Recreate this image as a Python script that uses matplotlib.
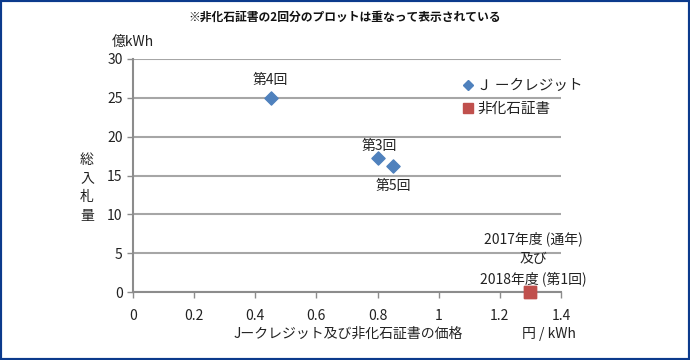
import matplotlib
matplotlib.use('Agg')
import matplotlib.pyplot as plt
from matplotlib.patches import Rectangle
from matplotlib.lines import Line2D

plt.rcParams['font.family'] = ['Noto Sans CJK JP', 'DejaVu Sans']

# J-credit auctions
jc_rounds = ['第3回', '第4回', '第5回']
jc_price = [0.80, 0.45, 0.85]
jc_volume = [17.2, 25.0, 16.2]

# non-fossil certificates (two rounds, overlapping)
nf_price = [1.30, 1.30]
nf_volume = [0.0, 0.0]
nf_label = '2017年度 (通年)\n及び\n2018年度 (第1回)'

xticks = [0, 0.2, 0.4, 0.6, 0.8, 1, 1.2, 1.4]
yticks = [0, 5, 10, 15, 20, 25, 30]

blue = '#4F81BD'
red = '#C0504D'
gray = '#A6A6A6'
txt = '#222222'

fig = plt.figure(figsize=(6.9, 3.6), dpi=100)
fig.patches.append(Rectangle((0, 0), 1, 1, transform=fig.transFigure,
                             fill=False, edgecolor='#0B3A8C', linewidth=3))
ax = fig.add_axes([133/690, 1-292/360, 428/690, 233/360])

ax.set_xlim(0, 1.4)
ax.set_ylim(0, 30)
ax.set_xticks(xticks)
ax.set_xticklabels(['0', '0.2', '0.4', '0.6', '0.8', '1', '1.2', '1.4'])
ax.set_yticks(yticks)
ax.yaxis.grid(True, color=gray, linewidth=1.5)
ax.set_axisbelow(True)
for s in ['top', 'right']:
    ax.spines[s].set_visible(False)
for s in ['left', 'bottom']:
    ax.spines[s].set_color('#8C8C8C')
    ax.spines[s].set_linewidth(1.5)
ax.tick_params(axis='both', colors='#8C8C8C', length=4, width=1,
               labelcolor=txt, labelsize=10)
ax.tick_params(axis='x', pad=8)

ax.scatter(jc_price, jc_volume, marker='D', s=45, color=blue,
           zorder=3, clip_on=False)
ax.scatter(nf_price, nf_volume, marker='s', s=80, color=red,
           zorder=3, clip_on=False)

offsets = {'第3回': (1, 9), '第4回': (0, 13), '第5回': (0, -14)}
for name, x, y in zip(jc_rounds, jc_price, jc_volume):
    ax.annotate(name, (x, y), textcoords='offset points', xytext=offsets[name],
                ha='center', va='center', fontsize=10, color=txt)
ax.annotate(nf_label, (nf_price[0], nf_volume[0]), textcoords='offset points',
            xytext=(2, 4), ha='center', va='bottom', fontsize=10,
            color=txt, linespacing=1.5, multialignment='center')

handles = [Line2D([], [], marker='D', color=blue, linestyle='none', markersize=5.5),
           Line2D([], [], marker='s', color=red, linestyle='none', markersize=7)]
leg = ax.legend(handles, ['Ｊ ークレジット', '非化石証書'], loc='upper left',
                bbox_to_anchor=(461/690, 1-79/360),
                bbox_transform=fig.transFigure, frameon=False, fontsize=10.5,
                handletextpad=0.2, handlelength=0.9, labelspacing=0.6,
                borderpad=0, borderaxespad=0)
for t in leg.get_texts():
    t.set_color(txt)

fig.text(345/690, 1-17/360, '※非化石証書の2回分のプロットは重なって表示されている',
         ha='center', va='center', fontsize=8.5, fontweight='bold', color='#111111')
fig.text(112/690, 1-42/360, '億kWh', ha='left', va='center', fontsize=10, color=txt)
fig.text(87/690, 1-188/360, '総\n入\n札\n量', ha='center', va='center',
         fontsize=10, color=txt, linespacing=1.45)
fig.text(348/690, 1-334/360, 'Jークレジット及び非化石証書の価格', ha='center',
         va='center', fontsize=10, color=txt)
fig.text(549/690, 1-334/360, '円 / kWh', ha='center', va='center',
         fontsize=10, color=txt)

fig.savefig('out.png', dpi=100)
